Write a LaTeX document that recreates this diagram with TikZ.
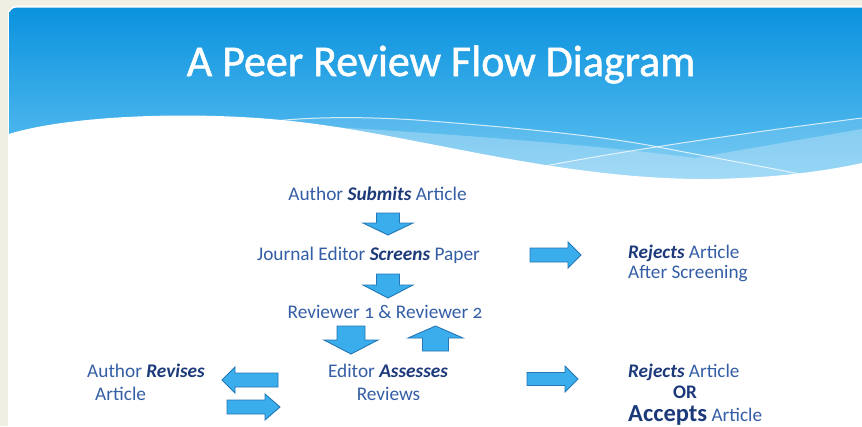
\documentclass[tikz,border=0pt]{standalone}
\usepackage{fontspec}
\setmainfont{Carlito}
\definecolor{cream}{RGB}{239,239,228}
\definecolor{hdrtop}{RGB}{10,146,222}
\definecolor{hdrbot}{RGB}{100,195,242}
\definecolor{txtc}{RGB}{52,94,165}
\definecolor{boldc}{RGB}{28,58,122}
\definecolor{arrfill}{RGB}{58,174,236}
\definecolor{arredge}{RGB}{36,118,180}
\newcommand{\kw}[1]{{\color{boldc}\bfseries\itshape #1}}
\newcommand{\blockarrow}[7]{%
  \draw[arr, shift={(#1,#2)}, rotate=#3] (0,#6) -- ({#4-#5},#6) -- ({#4-#5},#7) -- (#4,0) -- ({#4-#5},-#7) -- ({#4-#5},-#6) -- (0,-#6) -- cycle;}
\begin{document}
\begin{tikzpicture}[x=1pt,y=-1pt,
  txt/.style={text=txtc, font=\fontsize{19.3}{22}\selectfont, inner sep=0pt},
  rtxt/.style={text=txtc, font=\fontsize{19.2}{22}\selectfont, inner sep=0pt},
  arr/.style={fill=arrfill, draw=arredge, line width=0.9pt, line join=miter}]
\useasboundingbox (0,0) rectangle (862,426);
\fill[cream] (0,0) rectangle (862,426);
\fill[white, rounded corners=9pt] (8,5.5) rectangle (875,440);
\begin{scope}
  \clip[rounded corners=8pt] (9,7.5) rectangle (875,440);
  \shade[top color=hdrtop, bottom color=hdrbot] (0,7) rectangle (862,185);
  % bands
  \fill[white, opacity=0.10] (275,121) .. controls (320,116) and (380,117) .. (430,121) .. controls (520,128) and (600,136) .. (653,146) .. controls (710,157) and (760,166) .. (800,174) -- (800,200) -- (275,200) -- cycle;
  \fill[white, opacity=0.26] (300,125) .. controls (420,132) and (580,143) .. (695,158) -- (862,129) -- (862,200) -- (300,200) -- cycle;
  \fill[white, opacity=0.13] (540,167) .. controls (600,155) and (720,136) .. (862,118) -- (862,200) -- (540,200) -- cycle;
  \draw[white, line width=1pt, opacity=0.75] (275,121) .. controls (320,116) and (380,117) .. (430,121) .. controls (520,128) and (600,136) .. (653,146) .. controls (710,157) and (760,166) .. (800,174);
  \draw[white, line width=1pt, opacity=0.75] (540,167) .. controls (600,155) and (720,136) .. (862,118);
  % white body
  \fill[white] (9,134) .. controls (70,115) and (200,110) .. (300,122) .. controls (420,136) and (560,180) .. (710,179) .. controls (780,178) and (830,170) .. (862,163) -- (875,163) -- (875,440) -- (0,440) -- (0,134) -- cycle;
\end{scope}
% title
\node[font=\fontsize{44}{52}\selectfont\addfontfeature{FakeBold=1.2}, text=white, anchor=base, inner sep=0pt] (title) at (441,76) {A Peer Review Flow Diagram};
% texts
\node[txt, anchor=base] (submit) at (377.5,200) {Author \kw{Submits} Article};
\node[txt, anchor=base] (screen) at (368.5,260) {Journal Editor \kw{Screens} Paper};
\node[txt, anchor=base] (reviewers) at (385,318) {\addfontfeature{Numbers=OldStyle}Reviewer 1 \& Reviewer 2};
\node[txt, anchor=base] (assess) at (388,377) {Editor \kw{Assesses}};
\node[txt, anchor=base] (reviews) at (388.5,400) {Reviews};
\node[txt, anchor=base] (revise) at (146,377) {Author \kw{Revises}};
\node[txt, anchor=base west] (revart) at (95,400) {Article};
\node[rtxt, anchor=base west, text depth=0pt] (rej1) at (628,258) {\kw{Rejects} Article};
\node[rtxt, anchor=base west, text height=11pt] (rej1b) at (628,278) {After Screening};
\node[rtxt, anchor=base west] (rej2) at (628,377) {\kw{Rejects} Article};
\node[rtxt, anchor=base, text depth=0pt] (or) at (685,398) {\color{boldc}\bfseries OR};
\node[rtxt, anchor=base west, text height=15pt] (acc) at (628,421) {{\color{boldc}\bfseries\fontsize{24.5}{28}\selectfont Accepts} Article};
% block arrows
\blockarrow{388}{213}{-90}{22}{12}{11.5}{25}
\blockarrow{388}{274}{-90}{24}{13}{11.5}{25}
\blockarrow{351}{326}{-90}{28}{14}{14}{27}
\blockarrow{435.5}{351}{90}{25}{12}{13}{27.5}
\blockarrow{530}{255}{0}{51}{13}{7}{13}
\blockarrow{527}{379}{0}{51}{13}{6.5}{13}
\blockarrow{278}{380}{180}{56}{13}{7}{13}
\blockarrow{227}{407}{0}{53}{15}{7}{13}
\end{tikzpicture}
\end{document}
